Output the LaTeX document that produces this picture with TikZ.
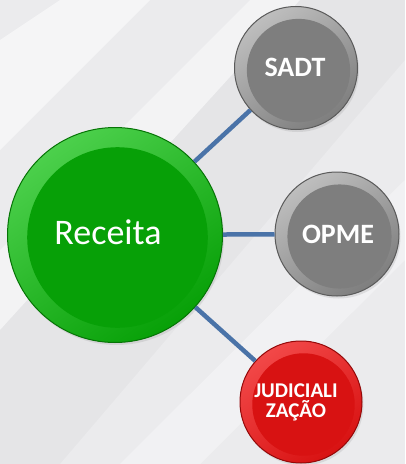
\documentclass[tikz,border=0pt]{standalone}
\usepackage{fontspec}
\setmainfont{Carlito}
\usetikzlibrary{shadows}
\definecolor{bg}{HTML}{EBEBED}
\definecolor{link}{HTML}{4A73A8}
\definecolor{gA}{HTML}{4CD04C}\definecolor{gC}{HTML}{07A007}\definecolor{gD}{HTML}{067406}
\definecolor{yA}{HTML}{BEBEBE}\definecolor{yC}{HTML}{7E7E7E}\definecolor{yD}{HTML}{5A5A5A}
\definecolor{rA}{HTML}{F24848}\definecolor{rC}{HTML}{D81212}\definecolor{rD}{HTML}{940808}
\tikzset{
  ball/.style n args={5}{circle, inner sep=0pt, minimum size=#5,
    top color=#1, bottom color=#3, shading angle=35, draw=#4, line width=1pt,
    drop shadow={opacity=0.18, shadow xshift=1.5pt, shadow yshift=-2.5pt},
    path picture={\fill[#3] ([shift={(2.5,2.5)}]path picture bounding box.center) circle[radius=0.42*#5];}},
  link/.style={draw=link, line width=4.5pt},
  lbl/.style={text=white, inner sep=0pt},
  big/.style={lbl, font=\fontsize{36}{40}\selectfont},
  small/.style={lbl, font=\bfseries\fontsize{28}{30}\selectfont},
  tiny/.style={lbl, font=\bfseries\fontsize{21}{20}\selectfont, align=center},
}
\begin{document}
\begin{tikzpicture}[x=1pt,y=-1pt]
\useasboundingbox (0,0) rectangle (405,464);
\fill[bg] (0,0) rectangle (405,464);
\fill[white,opacity=0.5] (0,40) -- (60,0) -- (150,0) -- (0,150) -- cycle;
\fill[white,opacity=0.4] (0,250) -- (250,0) -- (300,0) -- (0,330) -- cycle;
\fill[white,opacity=0.35] (120,464) -- (405,180) -- (405,260) -- (200,464) -- cycle;
\fill[black,opacity=0.025] (0,330) -- (300,0) -- (405,0) -- (405,60) -- (60,464) -- (0,464) -- cycle;
\node[ball={gA}{gD}{gC}{gD}{215pt}] (rec) at (115,235) {};
\node[ball={yA}{yD}{yC}{yD}{123pt}] (sadt) at (296,68) {};
\node[ball={yA}{yD}{yC}{yD}{124pt}] (opme) at (337,234) {};
\node[ball={rA}{rD}{rC}{rD}{122pt}] (jud) at (301,402) {};
\draw[link] (rec) -- (sadt);
\draw[link] (rec) -- (opme);
\draw[link] (rec) -- (jud);
\node[big] (rect) at ([shift={(-7,-3)}]rec.center) {Receita};
\node[small] (sadtt) at ([shift={(-1,-1)}]sadt.center) {SADT};
\node[small] (opmet) at ([shift={(1,0)}]opme.center) {OPME};
\node[tiny] (judt) at ([shift={(-5,0)}]jud.center) {JUDICIALI\\ZAÇÃO};
\end{tikzpicture}
\end{document}
